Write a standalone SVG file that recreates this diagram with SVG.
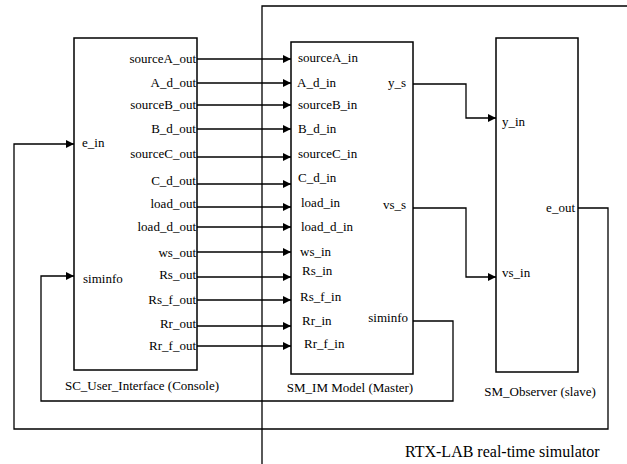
<svg xmlns="http://www.w3.org/2000/svg" width="627" height="464" viewBox="0 0 627 464">
<style>
text{font-family:"Liberation Serif","Times New Roman",serif;font-size:13px;fill:#000}
.r{text-anchor:end}
.c{text-anchor:middle}
.box{fill:#fff;stroke:#000;stroke-width:1.5}
.ln{fill:none;stroke:#000;stroke-width:1.3}
.ar{marker-end:url(#ah)}
</style>
<defs>
<marker id="ah" markerUnits="userSpaceOnUse" markerWidth="9" markerHeight="8" refX="8" refY="4" orient="auto">
<path d="M0,0 L8,4 L0,8 Z" fill="#000"/>
</marker>
</defs>
<path class="ln" d="M262,464 V6 H627"/>
<g id="console">
<rect class="box" x="74" y="38" width="123" height="332"/>
<text x="82" y="147">e_in</text>
<text x="83" y="283">siminfo</text>
<text class="r" x="196" y="63">sourceA_out</text>
<text class="r" x="196" y="87">A_d_out</text>
<text class="r" x="196" y="109">sourceB_out</text>
<text class="r" x="196" y="133">B_d_out</text>
<text class="r" x="196" y="158">sourceC_out</text>
<text class="r" x="196" y="185">C_d_out</text>
<text class="r" x="196" y="208">load_out</text>
<text class="r" x="196" y="231">load_d_out</text>
<text class="r" x="196" y="257">ws_out</text>
<text class="r" x="196" y="279">Rs_out</text>
<text class="r" x="196" y="304">Rs_f_out</text>
<text class="r" x="196" y="328">Rr_out</text>
<text class="r" x="196" y="350">Rr_f_out</text>
<text class="c" x="142" y="390">SC_User_Interface (Console)</text>
</g>
<g id="master">
<rect class="box" x="291" y="42" width="122" height="332"/>
<text x="298" y="62">sourceA_in</text>
<text x="297" y="87">A_d_in</text>
<text x="298" y="109">sourceB_in</text>
<text x="298" y="133">B_d_in</text>
<text x="298" y="158">sourceC_in</text>
<text x="298" y="182">C_d_in</text>
<text x="301" y="207">load_in</text>
<text x="301" y="231">load_d_in</text>
<text x="300" y="256">ws_in</text>
<text x="302" y="275">Rs_in</text>
<text x="300" y="301">Rs_f_in</text>
<text x="302" y="325">Rr_in</text>
<text x="304" y="348">Rr_f_in</text>
<text class="r" x="406" y="87">y_s</text>
<text class="r" x="406" y="209">vs_s</text>
<text class="r" x="408" y="322">siminfo</text>
<text class="c" x="350" y="392">SM_IM Model (Master)</text>
</g>
<g id="observer">
<rect class="box" x="496" y="38" width="82" height="334"/>
<text x="502" y="126">y_in</text>
<text x="502" y="277">vs_in</text>
<text class="r" x="575" y="212">e_out</text>
<text class="c" x="540" y="396">SM_Observer (slave)</text>
</g>
<g id="connectors">
<path class="ln ar" d="M197,59 H291"/>
<path class="ln ar" d="M197,83 H291"/>
<path class="ln ar" d="M197,105 H291"/>
<path class="ln ar" d="M197,129 H291"/>
<path class="ln ar" d="M197,157 H291"/>
<path class="ln ar" d="M197,184 H291"/>
<path class="ln ar" d="M197,207 H291"/>
<path class="ln ar" d="M197,227 H291"/>
<path class="ln ar" d="M197,252 H291"/>
<path class="ln ar" d="M197,277 H291"/>
<path class="ln ar" d="M197,300 H291"/>
<path class="ln ar" d="M197,326 H291"/>
<path class="ln ar" d="M197,346 H291"/>
<path class="ln ar" d="M413,84 H466 V118 H496"/>
<path class="ln ar" d="M413,208 H466 V277 H496"/>
<path class="ln ar" d="M413,321 H453 V401 H41 V276 H74"/>
<path class="ln ar" d="M578,208 H608 V429 H14 V144 H74"/>
</g>
<text x="405" y="457" style="font-size:16px">RTX-LAB real-time simulator</text>
</svg>
